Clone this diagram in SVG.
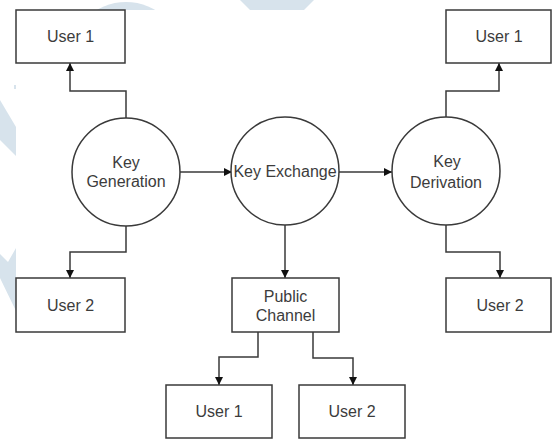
<svg xmlns="http://www.w3.org/2000/svg" width="552" height="439" viewBox="0 0 552 439">
  <defs>
    <style>
      .box { fill: #ffffff; stroke: #3a3a3a; stroke-width: 1.5; }
      .proc { fill: #ffffff; stroke: #3a3a3a; stroke-width: 1.5; }
      .lbl { font-family: "Liberation Sans", Arial, sans-serif; font-size: 16px; fill: #3c3c3c; text-anchor: middle; }
      .wire { fill: none; stroke: #3a3a3a; stroke-width: 1.5; marker-end: url(#tip); }
      .mark { fill: #d7e3ec; }
    </style>
    <marker id="tip" viewBox="0 0 8 8" refX="8" refY="4" markerWidth="8" markerHeight="8" markerUnits="userSpaceOnUse" orient="auto">
      <path d="M0,0 L8,4 L0,8 z" fill="#111111"/>
    </marker>
  </defs>

  <!-- page background with faint decorative shapes in the margins -->
  <rect x="0" y="0" width="552" height="439" fill="#ffffff"/>
  <g id="backdrop">
    <circle class="mark" cx="126" cy="60" r="58"/>
    <polygon class="mark" points="240,0 314,0 302,12 252,12"/>
    <polygon class="mark" points="0,100 16,127 16,156 0,140"/>
    <polygon class="mark" points="0,254 8,262 16,248 16,311 0,278"/>
    <rect class="mark" x="14" y="85" width="2" height="4"/>
  </g>
  <rect x="16" y="10" width="536" height="429" fill="#ffffff"/>

  <!-- connectors -->
  <g id="connectors">
    <path class="wire" d="M126,118 V91 H70 V63"/>
    <path class="wire" d="M126,226 V252 H70 V278"/>
    <path class="wire" d="M180,172 H232"/>
    <path class="wire" d="M339,172 H392"/>
    <path class="wire" d="M285,225 V278"/>
    <path class="wire" d="M446,117 V91 H499 V63"/>
    <path class="wire" d="M446,225 V252 H500 V278"/>
    <path class="wire" d="M258,332 V357 H219 V385"/>
    <path class="wire" d="M313,332 V358 H353 V385"/>
  </g>

  <!-- left side -->
  <g id="user1-left">
    <rect class="box" x="16" y="10" width="109" height="53"/>
    <text class="lbl" x="70.5" y="42">User 1</text>
  </g>
  <g id="user2-left">
    <rect class="box" x="16" y="278" width="109" height="54"/>
    <text class="lbl" x="70.5" y="311">User 2</text>
  </g>
  <g id="key-generation">
    <circle class="proc" cx="126" cy="172" r="54"/>
    <text class="lbl" x="126" y="168">Key</text>
    <text class="lbl" x="126" y="187">Generation</text>
  </g>

  <!-- centre -->
  <g id="key-exchange">
    <circle class="proc" cx="285" cy="171" r="54"/>
    <text class="lbl" x="285" y="177">Key Exchange</text>
  </g>
  <g id="public-channel">
    <rect class="box" x="232" y="278" width="107" height="54"/>
    <text class="lbl" x="285.5" y="302">Public</text>
    <text class="lbl" x="285.5" y="321">Channel</text>
  </g>
  <g id="user1-bottom">
    <rect class="box" x="166" y="385" width="106" height="53"/>
    <text class="lbl" x="219" y="417">User 1</text>
  </g>
  <g id="user2-bottom">
    <rect class="box" x="299" y="385" width="106" height="53"/>
    <text class="lbl" x="352" y="417">User 2</text>
  </g>

  <!-- right side -->
  <g id="key-derivation">
    <circle class="proc" cx="446" cy="171" r="54"/>
    <text class="lbl" x="447" y="167">Key</text>
    <text class="lbl" x="446" y="188">Derivation</text>
  </g>
  <g id="user1-right">
    <rect class="box" x="446" y="10" width="105" height="53"/>
    <text class="lbl" x="499" y="42">User 1</text>
  </g>
  <g id="user2-right">
    <rect class="box" x="446" y="278" width="105" height="54"/>
    <text class="lbl" x="500" y="311">User 2</text>
  </g>
</svg>
